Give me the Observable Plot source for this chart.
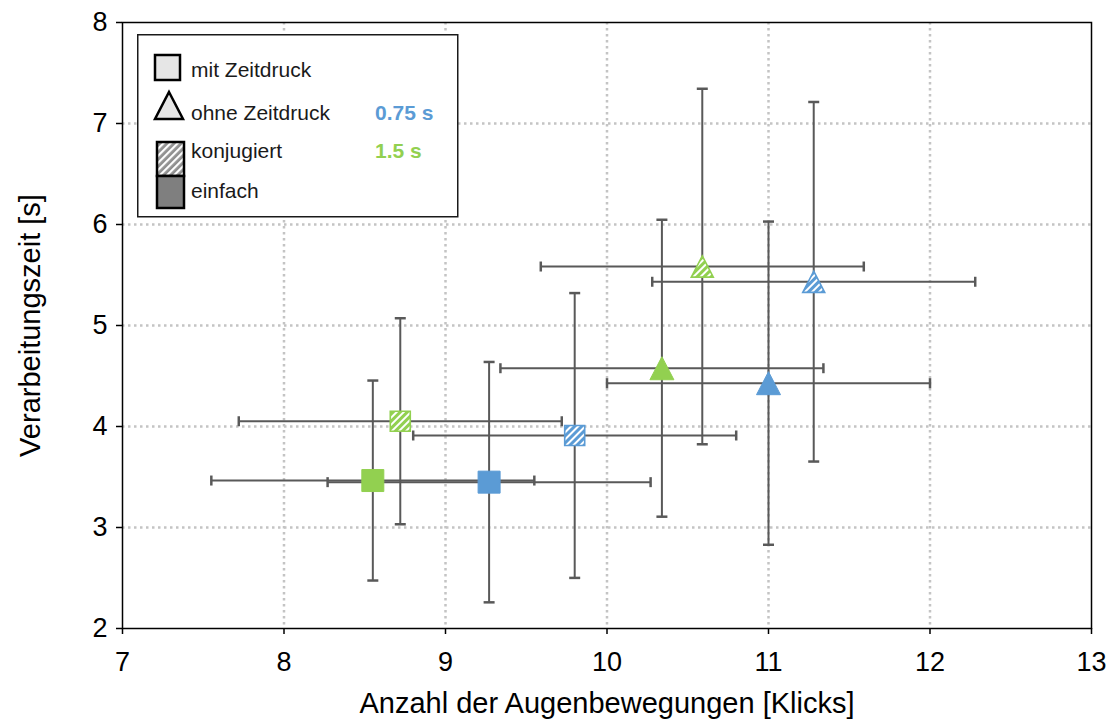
<!DOCTYPE html>
<html>
<head>
<meta charset="utf-8">
<script src="https://cdn.jsdelivr.net/npm/d3@7"></script>
<script src="https://cdn.jsdelivr.net/npm/@observablehq/plot@0.6"></script>
<style>
  body { margin: 0; background: #fff; }
  #wrap { position: relative; width: 1117px; height: 719px; font-family: "Liberation Sans", Arial, sans-serif; }
  #legend { position: absolute; left: 137px; top: 34px; }
</style>
</head>
<body>
<div id="wrap"></div>
<script>
// ---- data ----
const intervall   = ["1.5 s", "0.75 s", "1.5 s", "0.75 s", "1.5 s", "0.75 s", "1.5 s", "0.75 s"];
const zeitdruck   = ["mit", "mit", "mit", "mit", "ohne", "ohne", "ohne", "ohne"];
const art         = ["einfach", "einfach", "konjugiert", "konjugiert", "einfach", "einfach", "konjugiert", "konjugiert"];
const klicks      = [8.55, 9.27, 8.72, 9.80, 10.34, 11.00, 10.59, 11.28];
const klicksFehler = [1.0, 1.0, 1.0, 1.0, 1.0, 1.0, 1.0, 1.0];
const zeit        = [3.465, 3.449, 4.052, 3.911, 4.577, 4.429, 5.584, 5.433];
const zeitFehler  = [0.99, 1.19, 1.02, 1.41, 1.47, 1.60, 1.76, 1.78];

const xTicks = [7, 8, 9, 10, 11, 12, 13];
const yTicks = [2, 3, 4, 5, 6, 7, 8];
const xLabel = "Anzahl der Augenbewegungen [Klicks]";
const yLabel = "Verarbeitungszeit [s]";

const serien = ["0.75 s", "1.5 s"];
const farben = ["#5B9BD5", "#92D050"];
const legendeBedingungen = ["mit Zeitdruck", "ohne Zeitdruck", "konjugiert", "einfach"];

const rows = klicks.map((k, i) => ({
  intervall: intervall[i], zeitdruck: zeitdruck[i], art: art[i],
  klicks: k, klicksFehler: klicksFehler[i], zeit: zeit[i], zeitFehler: zeitFehler[i]
}));

// ---- custom symbols ----
const sqSym = { draw(ctx, size) { const r = Math.sqrt(size / Math.PI); ctx.rect(-r, -r, 2 * r, 2 * r); } };
const triSym = { draw(ctx, size) { const r = Math.sqrt(size / Math.PI); const h = r * 0.96; ctx.moveTo(0, -h); ctx.lineTo(r, h); ctx.lineTo(-r, h); ctx.closePath(); } };
const vBar = { draw(ctx, size) { const r = Math.sqrt(size / Math.PI); ctx.moveTo(0, -r); ctx.lineTo(0, r); } };
const hBar = { draw(ctx, size) { const r = Math.sqrt(size / Math.PI); ctx.moveTo(-r, 0); ctx.lineTo(r, 0); } };

const font = '"Liberation Sans", Arial, sans-serif';
const errColor = "#595959";
const marks = [
  Plot.gridX({ticks: xTicks.slice(1, -1), stroke: "#c4c4c4", strokeOpacity: 1, strokeWidth: 2.5, strokeDasharray: "2.5 3.5"}),
  Plot.gridY({ticks: yTicks.slice(1, -1), stroke: "#c4c4c4", strokeOpacity: 1, strokeWidth: 2.5, strokeDasharray: "2.5 3.5"}),
  Plot.frame({stroke: "#000", strokeWidth: 1.5}),
  Plot.axisX({ticks: xTicks, tickSize: 6, tickPadding: 17, tickFormat: d => String(d), strokeWidth: 1.5, label: null}),
  Plot.axisY({ticks: yTicks, tickSize: 6, tickPadding: 9, tickFormat: d => String(d), strokeWidth: 1.5, label: null}),
  Plot.text([xLabel], {text: d => d, frameAnchor: "bottom", dy: 84, lineAnchor: "bottom", textAnchor: "middle", fontSize: 29, fill: "#000"}),
  Plot.text([yLabel], {text: d => d, frameAnchor: "left", dx: -103, rotate: -90, lineAnchor: "top", textAnchor: "middle", fontSize: 29, fill: "#000"}),
  // error bars
  Plot.ruleY(rows, {y: "zeit", x1: d => d.klicks - d.klicksFehler, x2: d => d.klicks + d.klicksFehler, stroke: errColor, strokeWidth: 2}),
  Plot.ruleX(rows, {x: "klicks", y1: d => d.zeit - d.zeitFehler, y2: d => d.zeit + d.zeitFehler, stroke: errColor, strokeWidth: 2}),
  Plot.dot(rows, {x: d => d.klicks - d.klicksFehler, y: "zeit", symbol: vBar, r: 5, stroke: errColor, strokeWidth: 2.5, fill: "none"}),
  Plot.dot(rows, {x: d => d.klicks + d.klicksFehler, y: "zeit", symbol: vBar, r: 5, stroke: errColor, strokeWidth: 2.5, fill: "none"}),
  Plot.dot(rows, {x: "klicks", y: d => d.zeit - d.zeitFehler, symbol: hBar, r: 5.5, stroke: errColor, strokeWidth: 2.5, fill: "none"}),
  Plot.dot(rows, {x: "klicks", y: d => d.zeit + d.zeitFehler, symbol: hBar, r: 5.5, stroke: errColor, strokeWidth: 2.5, fill: "none"})
];

serien.forEach((s, si) => {
  const c = farben[si];
  const id = "hatch" + si;
  const sub = rows.filter(d => d.intervall === s);
  marks.push(
    Plot.dot(sub.filter(d => d.zeitdruck === "mit" && d.art === "einfach"), {x: "klicks", y: "zeit", symbol: sqSym, r: 11, fill: c, stroke: c, strokeWidth: 1}),
    Plot.dot(sub.filter(d => d.zeitdruck === "mit" && d.art === "konjugiert"), {x: "klicks", y: "zeit", symbol: sqSym, r: 10, fill: `url(#${id})`, stroke: c, strokeWidth: 1.6}),
    Plot.dot(sub.filter(d => d.zeitdruck === "ohne" && d.art === "einfach"), {x: "klicks", y: "zeit", symbol: triSym, r: 12, fill: c, stroke: c, strokeWidth: 1}),
    Plot.dot(sub.filter(d => d.zeitdruck === "ohne" && d.art === "konjugiert"), {x: "klicks", y: "zeit", symbol: triSym, r: 11, fill: `url(#${id})`, stroke: c, strokeWidth: 1.6})
  );
});

const plot = Plot.plot({
  width: 1117,
  height: 719,
  marginLeft: 122,
  marginRight: 26,
  marginTop: 22,
  marginBottom: 91,
  x: {domain: [7, 13]},
  y: {domain: [2, 8]},
  style: {fontFamily: font, fontSize: "27px", color: "#000", background: "#fff"},
  marks
});

// hatch patterns
const defs = d3.select(plot).insert("defs", ":first-child");
farben.forEach((c, si) => {
  const p = defs.append("pattern").attr("id", "hatch" + si).attr("patternUnits", "userSpaceOnUse")
    .attr("width", 5).attr("height", 5).attr("patternTransform", "rotate(45)");
  p.append("rect").attr("width", 5).attr("height", 5).attr("fill", c);
  p.append("rect").attr("width", 2).attr("height", 5).attr("fill", "#fff");
});

const wrap = document.getElementById("wrap");
wrap.appendChild(plot);

// legend (overlay inside the plot frame)
const lg = d3.select(wrap).append("svg").attr("id", "legend").attr("width", 322).attr("height", 184);
const lp = lg.append("defs").append("pattern").attr("id", "hatchGray").attr("patternUnits", "userSpaceOnUse")
  .attr("width", 5).attr("height", 5).attr("patternTransform", "rotate(45)");
lp.append("rect").attr("width", 5).attr("height", 5).attr("fill", "#8f8f8f");
lp.append("rect").attr("width", 2.2).attr("height", 5).attr("fill", "#fff");
lg.append("rect").attr("x", 0.75).attr("y", 0.75).attr("width", 320).attr("height", 182)
  .attr("fill", "#fff").attr("stroke", "#1a1a1a").attr("stroke-width", 1.5);
const ox = 137, oy = 34;
lg.append("rect").attr("x", 155 - ox).attr("y", 55 - oy).attr("width", 25).attr("height", 25)
  .attr("fill", "#e6e6e6").attr("stroke", "#000").attr("stroke-width", 2.5);
lg.append("path").attr("d", `M${169 - ox},${92 - oy}L${183 - ox},${119 - oy}L${155 - ox},${119 - oy}Z`)
  .attr("fill", "#e6e6e6").attr("stroke", "#000").attr("stroke-width", 2.5).attr("stroke-linejoin", "miter");
lg.append("rect").attr("x", 157 - ox).attr("y", 142 - oy).attr("width", 27).attr("height", 34)
  .attr("fill", "url(#hatchGray)").attr("stroke", "#000").attr("stroke-width", 2.5);
lg.append("rect").attr("x", 157 - ox).attr("y", 176 - oy).attr("width", 27).attr("height", 32)
  .attr("fill", "#7f7f7f").attr("stroke", "#000").attr("stroke-width", 2.5);
const tx = 191 - ox;
const baselines = [77, 120, 158, 198];
legendeBedingungen.forEach((t, i) => {
  lg.append("text").attr("x", tx).attr("y", baselines[i] - oy).attr("font-size", 21)
    .attr("font-family", font).attr("fill", "#1a1a1a").text(t);
});
serien.forEach((s, si) => {
  lg.append("text").attr("x", 375 - ox).attr("y", baselines[si + 1] - oy).attr("font-size", 21)
    .attr("font-weight", "bold").attr("font-family", font)
    .attr("fill", farben[si]).text(s);
});
</script>
</body>
</html>
